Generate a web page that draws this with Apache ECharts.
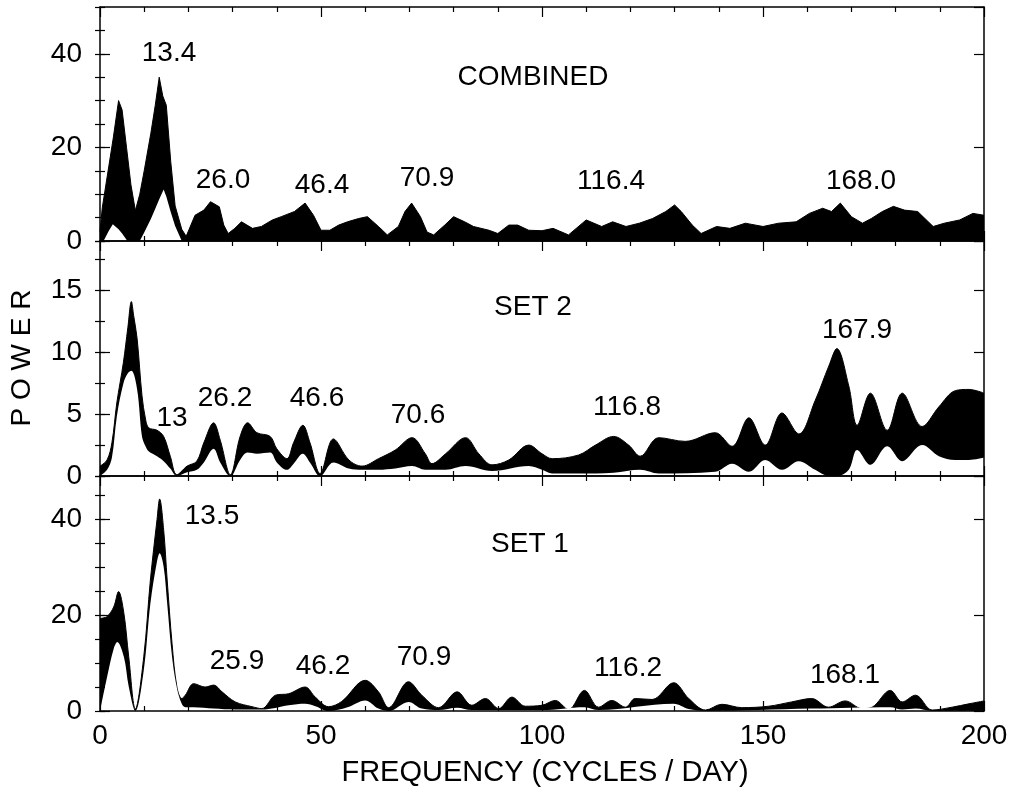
<!DOCTYPE html>
<html>
<head>
<meta charset="utf-8">
<script src="https://cdn.jsdelivr.net/npm/echarts@6/dist/echarts.min.js"></script>
<style>
html,body{margin:0;padding:0;background:#fff;}
#chart{width:1011px;height:791px;}
</style>
</head>
<body>
<div id="chart"></div>
<script>
// ---------- DATA ----------
// COMBINED panel: upper envelope and lower envelope of the power spectrum
const freqTopU = [0,0.5,1,2,3,4.2,5,6,7,8,9,10,11.5,12.5,13.4,14.2,15,16,17,18.5,19.5,21.5,23.5,25,27,28,29,30.5,32,34.5,36.5,39,41,44,46.4,48.3,50,52,54,56,58.5,60.5,63,65,67.5,69,70.5,72.5,74,75.5,78,80,82.5,84.5,88,90,92.5,94.5,97,100,102.5,106,110,113.5,116,119,122,125,128,130,131.5,134,136,139.5,142.5,146,150,153.5,157.5,160.5,163.5,165.5,167.5,170,172.5,174.5,177,179.5,182,185,188.5,191,194.5,197.5,200];
const upperTop = [2,7,10,16,22,30,28,20,12,6.5,10,15,23,29,35,31,29,17,7.5,2.5,1,5.5,6.6,8.4,7.3,3.4,1.6,2.7,4.1,2.7,3.1,4.5,5.2,6.3,8.1,5.5,2.3,2.3,3.4,4.1,4.8,5.2,3.1,1.3,3.1,6.3,8.1,5.2,1.9,1.3,3.4,5.2,4.1,3.1,2.3,1.6,3.4,3.4,2.3,2.2,2.7,1.3,4.5,3.1,4.1,3.1,3.8,4.8,6.3,7.7,6.3,3.4,1.6,3.1,2.7,3.8,3.1,3.8,4.1,5.9,7.0,6.3,8.1,5.2,3.8,4.8,6.3,7.4,6.6,6.3,3.1,3.8,4.5,5.9,5.5];
const freqTopL = [0,0.8,2,2.9,4.2,5,6.2,9,10,11.5,12.5,13.4,14.4,15,16,17,18.5,200];
const lowerTop = [0,0,2.2,3.6,2.5,1.6,0,0,1.8,4.7,6.9,8.9,11,9.5,6.2,3.2,0,0];

// SET 2 panel
const freqMidU = [0,1.6,2.7,3.8,5.3,6.3,7.1,7.6,8.4,9.5,10.3,11,12.9,14.4,15.9,17.4,19.7,21.9,23.5,25.7,27.2,29.5,31.7,33.4,35.5,38.5,40,42.3,43.8,45.9,47.5,49.8,52.8,56.3,59.3,63,66.8,70.6,73.6,75.1,78.2,82.7,85.7,88.7,92.5,97,100,102.3,108.3,112.1,116.2,119.6,122.2,126.4,132.4,139.2,143,146.8,150.5,154.3,158.1,161.8,164.9,166.7,169.4,171.3,174.3,178.1,181.5,186,189.8,193.5,196.6,200];
const upperMid = [0.8,1.3,2.7,5.9,9.2,12,14.1,13,11.1,6.5,4.6,3.9,3.7,3.2,1.6,0.1,0.8,1.2,2.7,4.3,2.9,0.1,3.2,4.3,3.5,3.2,2.2,1.4,2.7,4.1,2.7,0.2,3.0,1.3,0.8,1.4,2.1,3.1,1.8,1.0,1.8,3.1,1.8,0.9,1.3,2.5,1.8,1.4,1.7,2.5,3.2,2.5,1.6,3.1,2.8,3.5,2.4,4.7,2.5,5.1,3.4,6.1,8.9,10.3,7.3,4.1,6.7,3.7,6.7,4.0,5.6,6.9,7.0,6.7];
const freqMidL = [0,1.6,2.7,3.8,5.3,6.3,7.1,8.4,9.5,10.3,11,12.9,14.4,15.9,17.4,19.7,21.9,23.5,25.7,27.2,29.5,31.7,33.4,35.5,38.5,40,42.3,43.8,45.9,47.5,49.8,52.8,56.3,59.3,63,66.8,70.6,73.6,78.2,82.7,88.7,97,100,102.3,108.3,116.2,122.2,126.4,139.2,143,146.8,150.5,154.3,158.1,161.8,164.9,166.7,169.4,171.3,174.3,178.1,181.5,186,189.8,193.5,196.6,200];
const lowerMid = [0,0.5,1.5,4.8,7.5,8.3,8.5,7.0,3.2,2.4,2.0,1.6,1.2,0.6,0,0.3,0.5,1.1,2.2,1.1,0,1.3,1.9,1.8,1.9,1.1,0.5,1.0,1.8,1.1,0,1.1,0.6,0.5,0.5,0.6,0.8,0.5,0.5,0.8,0.4,0.8,0.5,0.2,0.2,0.27,0.5,0.2,0.35,1.0,0.35,1.3,0.5,1.2,0.5,0,0,0.5,2.1,0.9,2.4,1.2,2.5,1.6,1.3,1.3,1.5];

// SET 1 panel
const freqBotU = [0,1.6,3.1,4.2,5.4,6.5,8,9.9,11.4,12.9,13.5,14.4,15.2,16.3,17.4,18.5,19.3,21.2,23.8,25.7,27.6,30.6,34.4,36.6,39.7,42.7,46.4,48.7,51.7,54.7,60,63,65.3,69.8,72.8,76.6,80.8,84.1,87.2,90.2,93.2,96.2,100,103,106,109.6,112.8,115.8,118.9,121.1,124.9,129.8,133.2,137,140.7,145.2,151.3,156.5,161,164.8,168.6,172.4,174.7,178.8,181.5,184.5,188.3,192.8,196.6,200];
const upperBot = [19.3,19.7,21.7,24.9,20.4,11.3,0.4,11.3,27.3,39.9,44.2,37.8,27.3,14.1,5.0,2.6,3.3,5.7,5.0,5.4,4.0,1.9,0.9,0.5,3.3,3.6,5.0,2.9,0.9,2.0,6.4,4.0,0.7,6.1,3.3,0.7,4.0,1.2,2.6,0.5,2.9,1.0,1.2,2.2,0.3,4.3,0.8,2.2,0.8,2.6,2.4,5.9,2.6,0.2,1.4,0.7,1.0,1.9,2.6,0.8,2.1,0.5,0.8,4.3,1.9,3.3,0.2,0.8,1.5,2.1];
const freqBotL = [0,1.6,3.1,3.9,5.4,6.5,8,9.9,11.4,12.9,13.5,14.4,15.2,16.3,17.4,18.5,19.3,21.2,25.7,30.6,36.6,42.7,46.4,48.7,51.7,56,60,63,65.3,69.8,72.8,76.6,80.8,84.1,100,109.6,112.8,129.8,133.2,137,161,178.8,181.5,184.5,188.3,200];
const lowerBot = [0,7.1,13,14.4,11.3,5.1,0,8.5,22.4,31.2,32.9,30.1,22.4,11.3,4.8,1.5,0.8,0.8,0.5,0.3,0.3,1.2,1.5,1.0,0,0.8,2.2,0.5,0,1.9,0.5,0.2,0.7,0.2,0.2,0.8,0.2,1.5,0.4,0,0.5,0.8,0.3,0.5,0,0.2];

// axis ranges / ticks
const xMin = 0, xMax = 200, xMajor = 50;
const yMaxes = [50, 19, 49];
const yMajors = [20, 5, 20];
const yMinors = [5, 2.5, 5];

// texts
const panelNames = ['COMBINED', 'SET 2', 'SET 1'];
const peakLabels = [
  ['13.4','26.0','46.4','70.9','116.4','168.0'],
  ['13','26.2','46.6','70.6','116.8','167.9'],
  ['13.5','25.9','46.2','70.9','116.2','168.1']
];
const xTitle = 'FREQUENCY (CYCLES / DAY)';
const yTitle = 'P O W E R';

// ---------- LAYOUT ----------
const FONT = '"Liberation Sans", Arial, Helvetica, sans-serif';
const FS = 28;
const gridLayout = [{top:7,height:234},{top:241,height:235},{top:476,height:235}];
const smoothing = [false, 0.35, 0.35];
const namePos = [[533,77],[533,307],[530,544]];
const peakPos = [
  [[169,53],[223,180],[322,185],[427,178],[611,181],[861,181]],
  [[172,418],[225,398],[317,398],[418,415],[627,407],[857,330]],
  [[212,516],[237,661],[323,666],[424,657],[628,668],[845,675]]
];

const zip = (xs, ys) => xs.map((x, i) => [x, ys[i]]);
const black = '#000';
const axisLine = {show:true, onZero:false, lineStyle:{color:black, width:1.5}};

const grid = [], xAxis = [], yAxis = [], series = [];
gridLayout.forEach((g, i) => {
  grid.push({left:100, width:884, top:g.top, height:g.height, containLabel:false});
  ['bottom','top'].forEach(pos => {
    xAxis.push({
      type:'value', gridIndex:i, position:pos, min:xMin, max:xMax, interval:xMajor,
      axisLine, splitLine:{show:false}, z:10,
      axisTick:{show:true, inside:true, length:10, lineStyle:{color:black, width:1.2}},
      minorTick:{show:true, splitNumber:5, length:5, lineStyle:{color:black, width:1.2}},
      axisLabel:{show:(i===2 && pos==='bottom'), color:black, fontSize:FS, fontFamily:FONT, margin:11}
    });
  });
  const base = yAxis.length;
  ['left','right'].forEach(pos => {
    yAxis.push({
      type:'value', gridIndex:i, position:pos, min:0, max:yMaxes[i], interval:yMajors[i],
      axisLine, splitLine:{show:false}, z:10,
      axisTick:{show:true, inside:true, length:10, lineStyle:{color:black, width:1.2}},
      axisLabel:{show:pos==='left', color:black, fontSize:FS, fontFamily:FONT, margin:18, showMaxLabel:false}
    });
    yAxis.push({
      type:'value', gridIndex:i, position:pos, min:0, max:yMaxes[i], interval:yMinors[i],
      axisLine:{show:false}, splitLine:{show:false}, z:10,
      axisTick:{show:true, inside:true, length:5, lineStyle:{color:black, width:1.2}},
      axisLabel:{show:false}
    });
  });
  const uf = [freqTopU, freqMidU, freqBotU][i];
  const uv = [upperTop, upperMid, upperBot][i];
  const lf = [freqTopL, freqMidL, freqBotL][i];
  const lv = [lowerTop, lowerMid, lowerBot][i];
  series.push({
    type:'line', xAxisIndex:i*2, yAxisIndex:base, data:zip(uf, uv),
    showSymbol:false, symbol:'none', z:2, animation:false,
    smooth:smoothing[i],
    lineStyle:{color:black, width:1}, areaStyle:{color:black, opacity:1, origin:'start'}
  });
  series.push({
    type:'line', xAxisIndex:i*2, yAxisIndex:base, data:zip(lf, lv),
    showSymbol:false, symbol:'none', z:3, animation:false,
    smooth:smoothing[i],
    lineStyle:{color:'#fff', width:0, opacity:0}, areaStyle:{color:'#fff', opacity:1, origin:'start'}
  });
});

const graphic = [];
const txt = (text, x, y, size, extra) => Object.assign({
  type:'text', x, y, z:100,
  style:{text, fill:black, fontSize:size, fontFamily:FONT, align:'center', verticalAlign:'middle'}
}, extra || {});
panelNames.forEach((n, i) => graphic.push(txt(n, namePos[i][0], namePos[i][1], FS)));
peakLabels.forEach((arr, i) => arr.forEach((t, j) => graphic.push(txt(t, peakPos[i][j][0], peakPos[i][j][1], FS))));
graphic.push(txt(xTitle, 545, 773, 29));
graphic.push(txt(yTitle, 22, 358, 28, {rotation: Math.PI/2}));

const chart = echarts.init(document.getElementById('chart'), null, {renderer:'canvas'});
chart.setOption({animation:false, backgroundColor:'#fff', grid, xAxis, yAxis, series, graphic});
</script>
</body>
</html>
